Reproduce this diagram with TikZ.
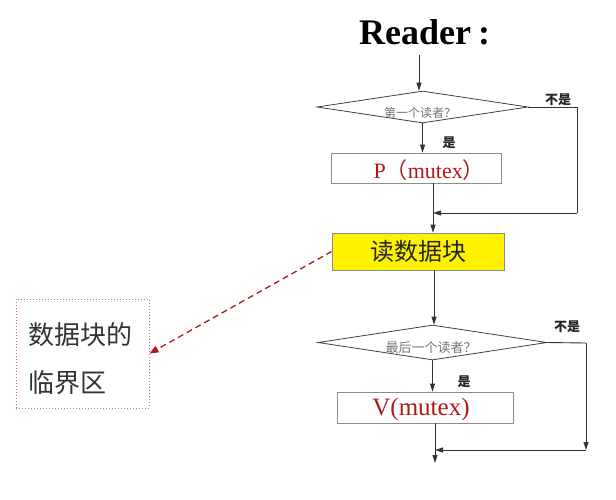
\documentclass[tikz,border=0pt]{standalone}
\usepackage{fontspec}
\setmainfont{Liberation Serif}
\newfontfamily\cjk{Noto Sans CJK SC}
\usetikzlibrary{arrows.meta,shapes.geometric}
\definecolor{dred}{HTML}{B01818}
\definecolor{boxgray}{HTML}{8C8C8C}
\definecolor{dotred}{HTML}{D07070}
\tikzset{
  x=1pt,y=-1pt,
  arr/.style={-{Triangle[length=8pt,width=5pt]},line width=0.9pt,black!80},
  ln/.style={line width=0.9pt,black!80},
  dia/.style={draw=black!75,line width=0.8pt,diamond,inner sep=0pt,aspect=6.5},
  procbox/.style={draw=boxgray,line width=0.8pt,rectangle,inner sep=0pt},
  qtext/.style={font=\cjk\fontsize{12}{14}\selectfont,text=black!55},
  yes/.style={font=\cjk\bfseries\fontsize{13}{15}\selectfont,text=black!85}
}
\begin{document}
\begin{tikzpicture}
\useasboundingbox (0,0) rectangle (616,499);
% title
\node[font=\bfseries\fontsize{36}{40}\selectfont,anchor=base west,inner sep=0pt] (title) at (359,44) {Reader\hspace{7pt}:};
% first diamond
\node[dia,minimum width=211pt,minimum height=32pt] (d1) at (422.5,107) {};
\node[qtext] (q1) at (420,113) {第一个读者？};
\node[yes] (no1) at (558,100) {不是};
\node[yes] (yes1) at (449,143) {是};
% P box
\node[procbox,minimum width=170pt,minimum height=30pt] (p) at (416,168) {};
\node[text=dred,font=\fontsize{22}{24}\selectfont,anchor=west] (pt) at (370,170) {P{\cjk （}mutex{\cjk ）}};
% read box
\node[procbox,fill=yellow,draw=black!45,minimum width=172pt,minimum height=37pt,font=\cjk\fontsize{24}{26}\selectfont,text=black!85] (rd) at (418,251.5) {读数据块};
% second diamond
\node[dia,minimum width=229pt,minimum height=35pt] (d2) at (432.5,342.5) {};
\node[qtext,font=\cjk\fontsize{13}{15}\selectfont] (q2) at (431,348) {最后一个读者？};
\node[yes] (no2) at (567,327) {不是};
\node[yes] (yes2) at (464,382) {是};
% V box
\node[procbox,minimum width=176pt,minimum height=31pt] (v) at (425,407.5) {};
\node[text=dred,font=\fontsize{25}{27}\selectfont] (vt) at (421,409) {V(mutex)};
% note box
\node[draw=dotred,dotted,line width=1pt,minimum width=133pt,minimum height=109pt,inner sep=0pt] (note) at (82.5,353.5) {};
\node[font=\cjk\fontsize{26}{48}\selectfont,text=black!80,align=left,anchor=west] (notet) at (25,359) {数据块的\\临界区};
% coordinates
\coordinate (top) at (419,55);
\coordinate (r1) at (577,107);
\coordinate (m1) at (433,213);
\coordinate (r2) at (586,343);
\coordinate (m2) at (586,450);
\coordinate (m3) at (435,450);
\coordinate (endp) at (435,463);
% connectors
\draw[arr] (top) -- (top |- d1.north);
\draw[arr] (d1.south) -- (d1.south |- p.north);
\draw[ln] (d1.east) -- (r1) -- (r1 |- m1);
\draw[arr] (r1 |- m1) -- (m1);
\draw[arr] (m1 |- p.south) -- (m1 |- rd.north);
\draw[arr] (rd.south -| 434,0) -- (434,0 |- d2.north);
\draw[arr] (d2.south) -- (d2.south |- v.north);
\draw[ln] (d2.east) -- (r2);
\draw[arr] (r2) -- (m2);
\draw[arr] (m2) -- (m3);
\draw[arr] (m3 |- v.south) -- (endp);
\draw[dred,dashed,line width=1.3pt,dash pattern=on 6pt off 4pt,-{Triangle[length=9pt,width=7pt]}] (rd.west) -- (note.east);
\end{tikzpicture}
\end{document}
